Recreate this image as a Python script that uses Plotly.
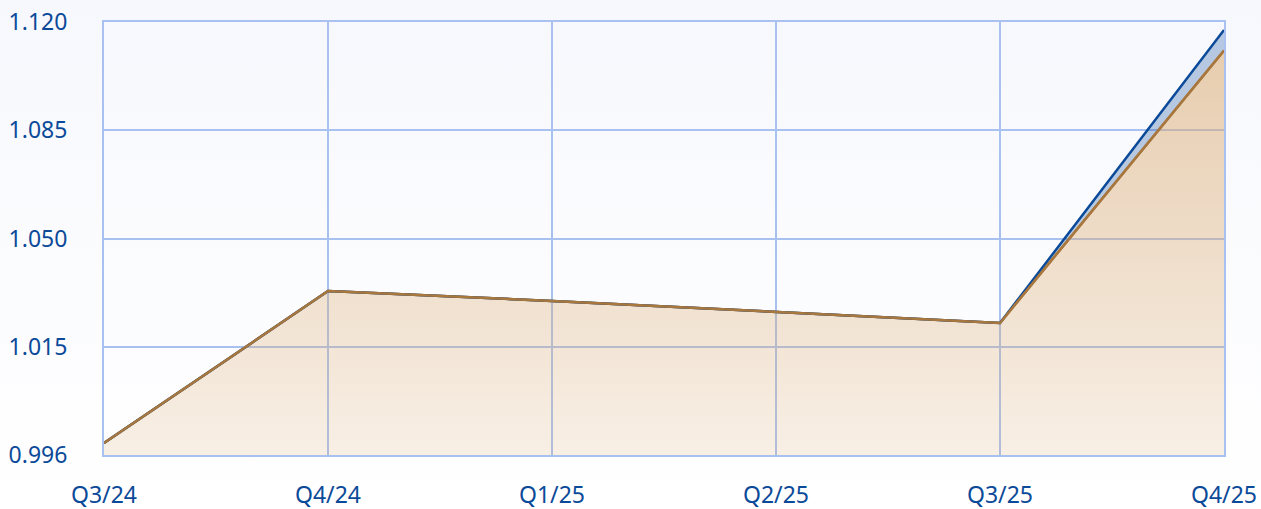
import base64
import plotly.graph_objects as go

quarters = ["Q3/24", "Q4/24", "Q1/25", "Q2/25", "Q3/25", "Q4/25"]
blue_values = [0.9839, 1.0330, 1.0298, 1.0262, 1.0227, 1.1174]
brown_values = [0.9839, 1.0330, 1.0298, 1.0262, 1.0227, 1.1108]
y_tickvals = [0.980, 1.015, 1.050, 1.085, 1.120]
y_ticktext = ["0.996", "1.015", "1.050", "1.085", "1.120"]

FONT = "Noto Sans"
LABEL = "#0b4a99"
GRID = "#a9c1f0"
BROWN = "#a8773d"
BLUE = "#0b4a99"

fig = go.Figure()
# brown area (bottom layer)
fig.add_trace(go.Scatter(
    x=quarters, y=brown_values, mode="lines",
    line=dict(color=BROWN, width=2.5),
    fill="tozeroy",
    fillgradient=dict(
        type="vertical", start=0.980, stop=1.112,
        colorscale=[[0, "rgba(218,170,112,0.18)"], [1, "rgba(218,170,112,0.56)"]],
    ),
    hoverinfo="skip", showlegend=False,
))
# blue area between blue and brown
fig.add_trace(go.Scatter(
    x=quarters, y=blue_values, mode="lines",
    line=dict(color=BLUE, width=2.5),
    fill="tonexty", fillcolor="rgba(11,74,153,0.28)",
    hoverinfo="skip", showlegend=False,
))
# brown line on top
fig.add_trace(go.Scatter(
    x=quarters, y=brown_values, mode="lines",
    line=dict(color=BROWN, width=2.5),
    hoverinfo="skip", showlegend=False,
))

svg = ('<svg xmlns="http://www.w3.org/2000/svg" width="100" height="100" preserveAspectRatio="none">'
       '<defs><linearGradient id="g" x1="0" y1="0" x2="0" y2="1">'
       '<stop offset="0" stop-color="#f7f8fd"/><stop offset="1" stop-color="#ffffff"/>'
       '</linearGradient></defs><rect width="100" height="100" fill="url(#g)"/></svg>')
src = "data:image/svg+xml;base64," + base64.b64encode(svg.encode()).decode()

L, R, T, B = 104, 37, 22, 54
W, H = 1261, 509
pw, ph = W - L - R, H - T - B
fig.add_layout_image(dict(
    source=src, xref="paper", yref="paper",
    x=-L / pw, y=1 + T / ph, sizex=W / pw, sizey=H / ph,
    xanchor="left", yanchor="top", sizing="stretch", layer="below",
))

fig.update_layout(
    width=W, height=H,
    margin=dict(l=L, r=R, t=T, b=B, autoexpand=False),
    paper_bgcolor="white", plot_bgcolor="rgba(0,0,0,0)",
    font=dict(family=FONT, size=23, color=LABEL),
)
fig.update_xaxes(
    type="category", range=[0, 5], showgrid=True, gridcolor=GRID, gridwidth=2,
    showline=True, linecolor=GRID, linewidth=2, mirror=True,
    zeroline=False, ticks="", ticklabelstandoff=18, automargin=False,
    tickfont=dict(family=FONT, size=23, color=LABEL),
)
fig.update_yaxes(
    range=[0.980, 1.120], tickvals=y_tickvals, ticktext=y_ticktext,
    showgrid=True, gridcolor=GRID, gridwidth=2,
    showline=True, linecolor=GRID, linewidth=2, mirror=True,
    zeroline=False, ticks="", ticklabelstandoff=30, automargin=False,
    tickfont=dict(family=FONT, size=23, color=LABEL),
)

fig.write_html(
    "out.html",
    config={"displayModeBar": False},
    post_script="document.body.style.margin='0';document.body.style.padding='0';document.body.style.overflow='hidden';",
)
